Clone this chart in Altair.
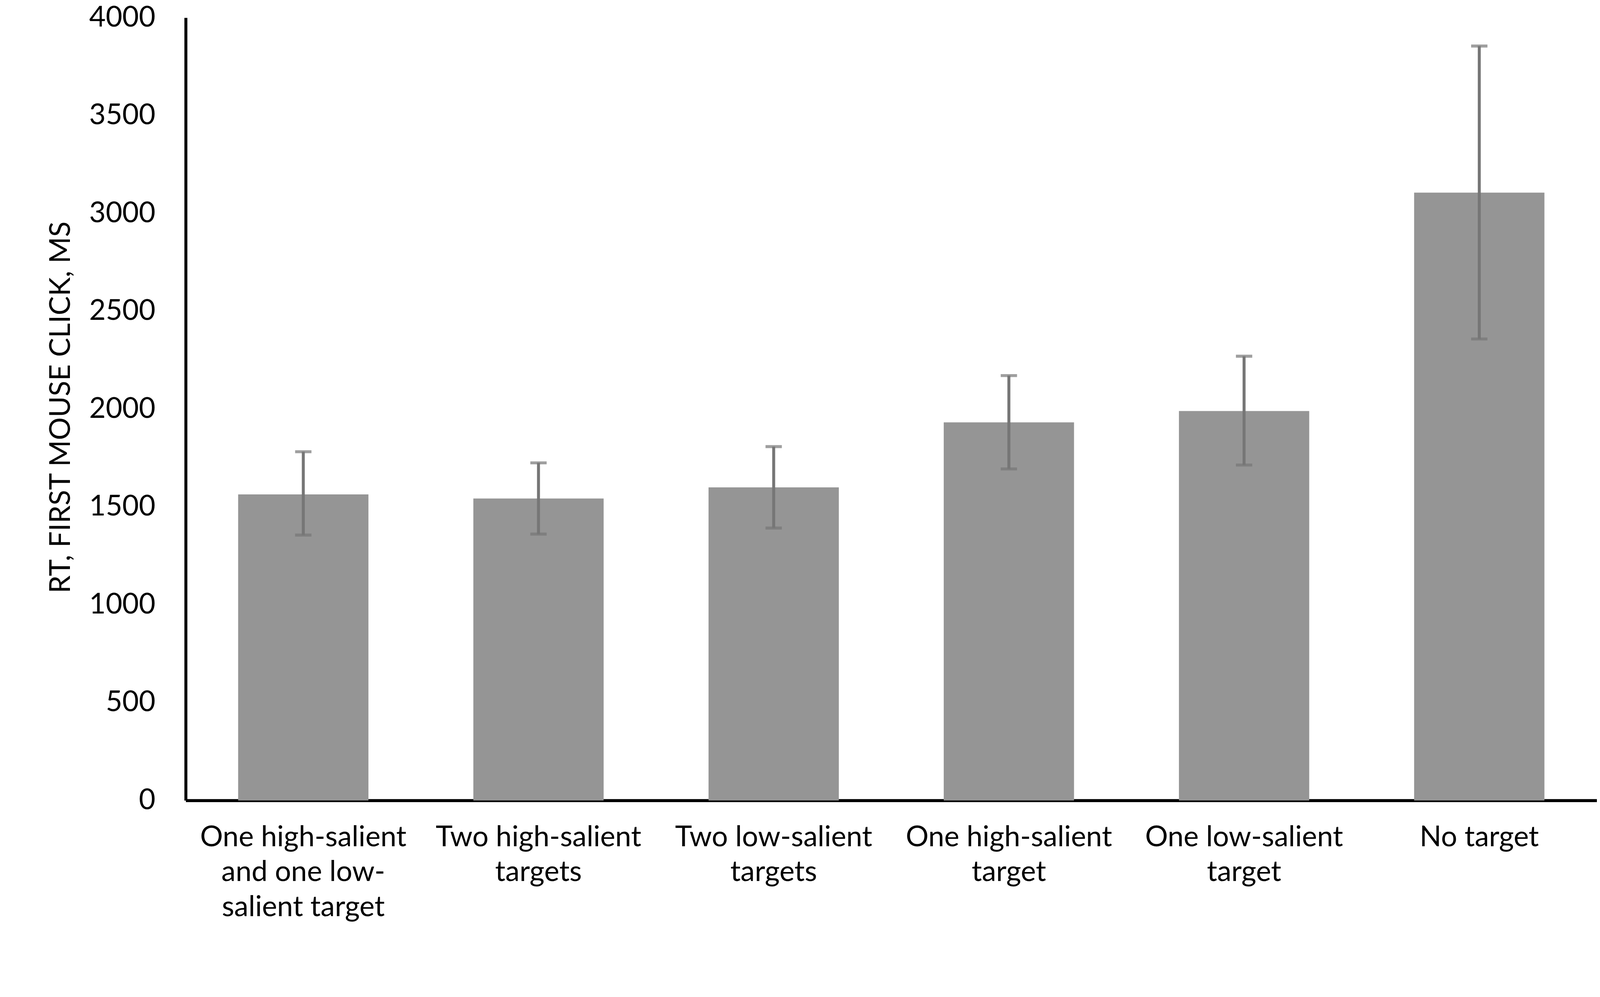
import altair as alt
import pandas as pd

categories = [
    "One high-salient\nand one low-\nsalient target",
    "Two high-salient\ntargets",
    "Two low-salient\ntargets",
    "One high-salient\ntarget",
    "One low-salient\ntarget",
    "No target",
]
means = [1564, 1543, 1600, 1932, 1990, 3106]
err_low = [1356, 1361, 1392, 1694, 1714, 2358]
err_high = [1782, 1725, 1808, 2171, 2270, 3855]
y_ticks = [0, 500, 1000, 1500, 2000, 2500, 3000, 3500, 4000]

df = pd.DataFrame({"cat": categories, "mean": means, "lo": err_low, "hi": err_high})

FONT = "Lato"
FS = 77

x = alt.X(
    "cat:N",
    sort=categories,
    scale=alt.Scale(paddingInner=0.446, paddingOuter=0.223),
    axis=alt.Axis(
        title=None,
        labelExpr="split(datum.label, '\\n')",
        labelAngle=0,
        labelFont=FONT,
        labelFontSize=FS,
        labelColor="black",
        labelLineHeight=94,
        labelPadding=62,
        labelBaseline="top",
        ticks=False,
        grid=False,
        domainColor="black",
        domainWidth=8,
        labelLimit=0,
    ),
)

yscale = alt.Scale(domain=[0, 4000], nice=False)

bars = alt.Chart(df).mark_bar(color="#959595").encode(
    x=x,
    y=alt.Y(
        "mean:Q",
        scale=yscale,
        axis=alt.Axis(
            title="RT, FIRST MOUSE CLICK, MS",
            values=y_ticks,
            format="d",
            grid=False,
            ticks=False,
            labelFont=FONT,
            labelFontSize=FS,
            labelColor="black",
            labelPadding=82,
            labelLimit=0,
            titleFont=FONT,
            titleFontSize=FS,
            titleFontWeight="normal",
            titleColor="black",
            titleX=-335,
            titleY=1050,
            titleBaseline="middle",
            domainColor="black",
            domainWidth=8,
        ),
    ),
)

stems = alt.Chart(df).mark_rule(color="#767676", strokeWidth=8).encode(
    x=alt.X("cat:N", sort=categories),
    y=alt.Y("lo:Q", scale=yscale),
    y2="hi:Q",
)

caps_hi = alt.Chart(df).mark_tick(color="#767676", thickness=8, size=44, orient="horizontal").encode(
    x=alt.X("cat:N", sort=categories),
    y=alt.Y("hi:Q", scale=yscale),
)
caps_lo = alt.Chart(df).mark_tick(color="#767676", thickness=8, size=44, orient="horizontal").encode(
    x=alt.X("cat:N", sort=categories),
    y=alt.Y("lo:Q", scale=yscale),
)

chart = (
    alt.layer(bars, stems, caps_hi, caps_lo)
    .properties(
        width=3803,
        height=2110,
        background="white",
        autosize=alt.AutoSizeParams(type="none"),
        padding={"left": 492, "top": -27, "right": 0, "bottom": 430},
    )
    .configure_view(stroke="transparent", strokeWidth=0)
    .configure_axis(grid=False)
)

chart.save("out.html", embed_options={"renderer": "svg", "actions": False})
